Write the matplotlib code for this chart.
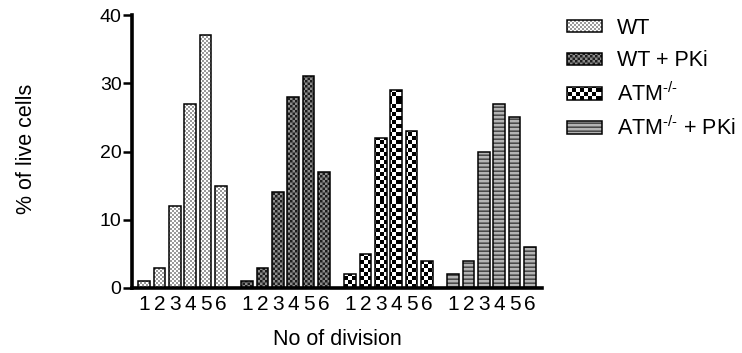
import numpy as np
import matplotlib
matplotlib.use('Agg')
import matplotlib.pyplot as plt
from matplotlib import hatch as mhatch
from matplotlib.path import Path
from matplotlib.colors import to_rgba

# ---------------- data ----------------
divisions = ['1', '2', '3', '4', '5', '6']
series_labels = ['WT', 'WT + PKi', 'ATM$^{\\text{-/-}}$', 'ATM$^{\\text{-/-}}$ + PKi']
wt = [1, 3, 12, 27, 37, 15]
wt_pki = [1, 3, 14, 28, 31, 17]
atm = [2, 5, 22, 29, 23, 4]
atm_pki = [2, 4, 20, 27, 25, 6]
yticks = [0, 10, 20, 30, 40]


# ---------------- custom block hatches (checker / stripes) ----------------
class BlockHatch(mhatch.HatchPatternBase):
    def __init__(self, hatch, density):
        rects = []
        n = hatch.count('*') * 5
        if n:
            s = 1.0 / n
            for i in range(n):
                for j in range(n):
                    if (i + j) % 2 == 0:
                        rects.append((i * s, j * s, s, s))
        m = hatch.count('-') * 5
        if m:
            s = 1.0 / m
            for j in range(m):
                rects.append((0.0, j * s, 1.0, s * 0.4))
        self.rects = rects
        self.num_vertices = 5 * len(rects)

    def set_vertices_and_codes(self, vertices, codes):
        for k, (x, y, w, h) in enumerate(self.rects):
            vertices[5 * k:5 * k + 5] = [(x, y), (x + w, y), (x + w, y + h),
                                         (x, y + h), (x, y)]
            codes[5 * k:5 * k + 5] = [Path.MOVETO, Path.LINETO, Path.LINETO,
                                      Path.LINETO, Path.CLOSEPOLY]


mhatch._hatch_types[:] = [BlockHatch]

plt.rcParams['font.family'] = ['Liberation Sans', 'DejaVu Sans']
plt.rcParams['mathtext.fontset'] = 'custom'
plt.rcParams['mathtext.rm'] = 'Liberation Sans'
plt.rcParams['mathtext.it'] = 'Liberation Sans:italic'
plt.rcParams['mathtext.default'] = 'regular'
plt.rcParams['hatch.linewidth'] = 0.0

fig = plt.figure(figsize=(7.42, 3.53), dpi=100)
ax = fig.add_axes([132 / 742, 65 / 353, 410 / 742, 273 / 353])

group_step = 6.68
bar_w = 0.75
styles = [
    dict(face='white', hatch='*' * 10, hcol='#9a9a9a'),
    dict(face='#1e1e1e', hatch='*' * 8, hcol='#8c8c8c'),
    dict(face='white', hatch='*' * 5, hcol='black'),
    dict(face='#b4b4b4', hatch='-' * 5, hcol='#4a4a4a'),
]
all_series = [wt, wt_pki, atm, atm_pki]
handles = []
tick_pos = []
tick_lab = []
for g, (vals, st) in enumerate(zip(all_series, styles)):
    xs = g * group_step + np.arange(len(divisions))
    bars = ax.bar(xs, vals, width=bar_w, color=st['face'], edgecolor='black',
                  linewidth=1.1, hatch=st['hatch'], zorder=2)
    for p in bars:
        p._hatch_color = to_rgba(st['hcol'])
    handles.append(bars)
    tick_pos.extend(xs)
    tick_lab.extend(divisions)

ax.set_xlim(-0.78, 3 * group_step + 5 + 0.78)
ax.set_ylim(0, 40)
ax.set_yticks(yticks)
ax.set_xticks(tick_pos)
ax.set_xticklabels(tick_lab, fontsize=15)
ax.tick_params(axis='x', length=0, pad=5)
ax.tick_params(axis='y', length=6.5, width=1.8, labelsize=14, pad=1)
for s in ['top', 'right']:
    ax.spines[s].set_visible(False)
for s in ['left', 'bottom']:
    ax.spines[s].set_linewidth(2.6)
    ax.spines[s].set_zorder(3)

ax.set_xlabel('No of division', fontsize=15.5, labelpad=11)
ax.set_ylabel('% of live cells', fontsize=15.5)
ax.yaxis.set_label_coords(-0.232, 0.51)

row_centers = [28, 61, 94, 128]
for h, lab, yc in zip(handles, series_labels, row_centers):
    fig.legend([h], [lab], loc='center left',
               bbox_to_anchor=(567 / 742, 1 - yc / 353), frameon=False,
               fontsize=15.5, handlelength=1.63, handleheight=0.53,
               handletextpad=0.7, borderpad=0, borderaxespad=0)

fig.savefig('out.png', dpi=100)
